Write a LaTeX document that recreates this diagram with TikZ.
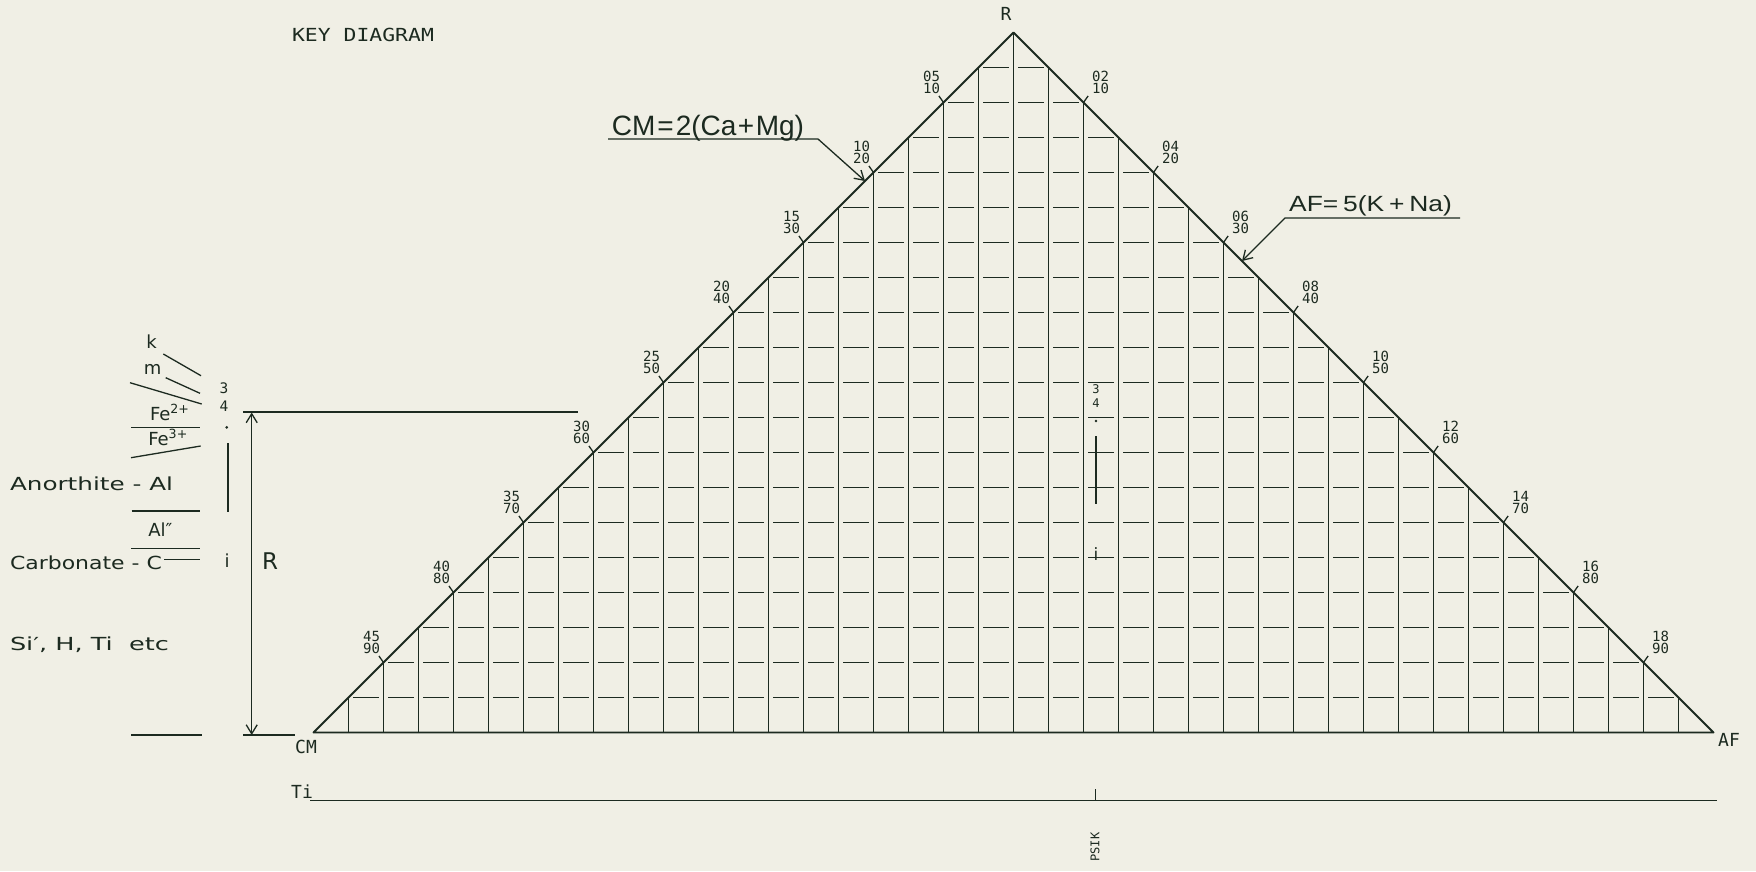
\documentclass[tikz,border=0pt]{standalone}
\usepackage{fontspec}
\usepackage{graphicx}
\setmainfont{DejaVu Sans}
\newfontfamily\plotfont{DejaVu Sans Mono}
\newfontfamily\bigfont{Liberation Sans}
\usetikzlibrary{arrows.meta,calc}
\definecolor{paper}{RGB}{240,239,229}
\definecolor{ink}{RGB}{28,42,32}
\newcommand\sx[2]{\scalebox{#1}[1]{#2}}
\begin{document}
\begin{tikzpicture}[x=1pt,y=-1pt,
  every node/.style={inner sep=0pt, outer sep=0pt, text=ink},
  edge/.style={draw=ink, line width=1.9pt, line join=round},
  gridv/.style={draw=ink, line width=1.2pt},
  gridh/.style={draw=ink, line width=1.2pt, dash pattern=on 26pt off 9pt, dash phase=30.5pt},
  thin/.style={draw=ink, line width=1.3pt},
  thick/.style={draw=ink, line width=2.2pt},
  tick/.style={draw=ink, line width=1.3pt},
  num/.style={font=\plotfont\fontsize{14}{11.5}\selectfont, align=center},
  plot/.style={font=\plotfont\fontsize{18}{18}\selectfont},
  lbl/.style={font=\fontsize{18}{18}\selectfont},
  big/.style={font=\bigfont\fontsize{28}{28}\selectfont},
  barb/.style={-{Straight Barb[length=9pt,width=11pt,line width=1.3pt]}},
  dbarb/.style={{Straight Barb[length=9pt,width=11pt,line width=1.3pt]}-{Straight Barb[length=9pt,width=11pt,line width=1.3pt]}},
]
\path[use as bounding box, fill=paper] (0,0) rectangle (1756,871);

% ---------- main triangle ----------
\coordinate (O) at (1013.5,732.5);
\begin{scope}[shift={(O)}, x=35pt, y=35pt]
  \foreach \i in {-19,...,19} {
    \pgfmathtruncatemacro\h{20-abs(\i)}
    \draw[gridv] (\i,0) -- (\i,\h);
  }
  \foreach \j in {1,...,19} {
    \pgfmathtruncatemacro\w{20-\j}
    \draw[gridh] (-\w,\j) -- (\w,\j);
  }
  \coordinate (CMv) at (-20,0);
  \coordinate (Rv) at (0,20);
  \coordinate (AFv) at (20,0);
  \draw[edge] (CMv) -- (Rv) -- (AFv) -- cycle;
  \foreach \k/\a/\b in {1/05/10,2/10/20,3/15/30,4/20/40,5/25/50,6/30/60,7/35/70,8/40/80,9/45/90} {
    \coordinate (tl\k) at (-2*\k,20-2*\k);
    \draw[tick] (tl\k) -- ++(125:8pt);
    \path (tl\k) ++(-12pt,20pt) node[num] (nl\k) {\a\\\b};
  }
  \foreach \k/\a/\b in {1/02/10,2/04/20,3/06/30,4/08/40,5/10/50,6/12/60,7/14/70,8/16/80,9/18/90} {
    \coordinate (tr\k) at (2*\k,20-2*\k);
    \draw[tick] (tr\k) -- ++(55:8pt);
    \path (tr\k) ++(17pt,20pt) node[num] (nr\k) {\a\\\b};
  }
\end{scope}

\node[plot] (Rlab) at (1006,14) {R};
\node[plot] (CMlab) at (306,747) {CM};
\node[plot] (AFlab) at (1729,740) {AF};
\node[plot] (key) at (363,35) {\sx{1.19}{KEY DIAGRAM}};

% ---------- formula labels with leaders ----------
\node[big, anchor=base] (CMeq) at (708,135) {CM\hspace{2pt}=\hspace{2pt}2(Ca\hspace{1.5pt}+\hspace{1.5pt}Mg)};
\coordinate (cmU1) at (608,139);
\coordinate (cmU2) at (818,139);
\coordinate (cmTip) at (865,181);
\draw[thin, barb] (cmU1) -- (cmU2) -- (cmTip);

\node[big, anchor=base, font=\bigfont\fontsize{22}{22}\selectfont] (AFeq) at (1370.5,211.7) {\sx{1.2}{AF=\hspace{4pt}5(K\hspace{4pt}+\hspace{4pt}Na)}};
\coordinate (afU1) at (1460,218);
\coordinate (afU2) at (1285,218);
\coordinate (afTip) at (1242,261);
\draw[thin, barb] (afU1) -- (afU2) -- (afTip);

% ---------- left key ----------
\node[lbl] (kk) at (151.7,342) {k};
\node[lbl] (mm) at (152.7,369) {m};
\coordinate (lk1) at (163.3,354); \coordinate (lk2) at (201,375.7);
\coordinate (lm1) at (165.7,377.7); \coordinate (lm2) at (200,393.3);
\coordinate (ls1) at (130,382.7); \coordinate (ls2) at (201.7,404);
\draw[thin] (lk1) -- (lk2);
\draw[thin] (lm1) -- (lm2);
\draw[thin] (ls1) -- (ls2);
\node[plot, font=\plotfont\fontsize{14.5}{14.5}\selectfont] (l3) at (224,388.3) {3};
\node[plot, font=\plotfont\fontsize{14.5}{14.5}\selectfont] (l4) at (224,406.7) {4};
\node[lbl, anchor=base west] (fe2) at (150,420) {Fe\textsuperscript{2+}};
\coordinate (lf1) at (131,427.7); \coordinate (lf2) at (200,427.7);
\draw[thin] (lf1) -- (lf2);
\fill[ink] (226.7,427.3) circle (1.5pt);
\node[lbl, anchor=base west] (fe3) at (148.3,445) {Fe\textsuperscript{3+}};
\coordinate (lg1) at (131,457.7); \coordinate (lg2) at (200.7,446);
\draw[thin] (lg1) -- (lg2);
\coordinate (lb1) at (227.7,443.3); \coordinate (lb2) at (227.7,511.7);
\draw[thick] (lb1) -- (lb2);
\node[lbl, anchor=base west] (anor) at (10,490) {\sx{1.37}{Anorthite - Al}};
\coordinate (la1) at (131.7,511); \coordinate (la2) at (200,511);
\draw[thin] (la1) -- (la2);
\node[lbl, anchor=base west] (al2) at (148.3,536.7) {Al″};
\coordinate (lc1) at (131,548.3); \coordinate (lc2) at (200,548.3);
\draw[thin] (lc1) -- (lc2);
\node[lbl, anchor=base west] (carb) at (10,569.3) {\sx{1.22}{Carbonate - C}};
\coordinate (ld1) at (164.3,559.3); \coordinate (ld2) at (200,559.3);
\draw[thin] (ld1) -- (ld2);
\node[lbl, anchor=base] (li) at (227,567.5) {i};
\node[lbl, anchor=base, font=\fontsize{23}{23}\selectfont] (Rdim) at (270,569.3) {R};
\node[lbl, anchor=base west] (si) at (10,650.7) {\sx{1.42}{Si′, H, Ti\ \ etc}};
\coordinate (le1) at (131,735); \coordinate (le2) at (201.7,735);
\draw[thin] (le1) -- (le2);

% dimension R
\coordinate (dT) at (251.7,412.5);
\coordinate (dB) at (251.7,735);
\draw[thin, dbarb] (dT) -- (dB);
\coordinate (hT1) at (243.3,412); \coordinate (hT2) at (578,412);
\draw[thin] (hT1) -- (hT2);
\coordinate (hB1) at (243,735); \coordinate (hB2) at (295,735);
\draw[thin] (hB1) -- (hB2);

% ---------- centre marker group ----------
\node[plot, font=\plotfont\fontsize{12}{12}\selectfont] (c3) at (1096,389) {3};
\node[plot, font=\plotfont\fontsize{12}{12}\selectfont] (c4) at (1096,403) {4};
\fill[ink] (1096,421) circle (1.3pt);
\coordinate (cb1) at (1096,436); \coordinate (cb2) at (1096,504);
\draw[thick] (cb1) -- (cb2);
\node[lbl, anchor=base, font=\fontsize{17}{17}\selectfont] (ci) at (1096,560) {i};

% ---------- Ti axis ----------
\node[plot] (Ti) at (302,792) {Ti};
\coordinate (ta1) at (310,800.5); \coordinate (ta2) at (1717,800.5);
\draw[thin] (ta1) -- (ta2);
\coordinate (tt1) at (1095.5,789); \coordinate (tt2) at (1095.5,800.5);
\draw[thin] (tt1) -- (tt2);
\node[plot, font=\plotfont\fontsize{12}{12}\selectfont, rotate=90] (psik) at (1095,847) {PSIK};
\end{tikzpicture}
\end{document}
